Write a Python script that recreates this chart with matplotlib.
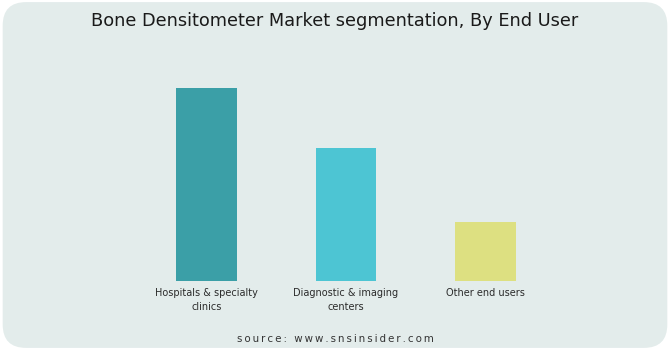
import matplotlib
matplotlib.use("Agg")
import matplotlib.pyplot as plt
from matplotlib.patches import FancyBboxPatch

# data (relative bar heights)
categories = ["Hospitals & specialty\nclinics", "Diagnostic & imaging\ncenters", "Other end users"]
values = [58, 40, 17.7]
colors = ["#3b9fa7", "#4dc5d3", "#dde081"]

title = "Bone Densitometer Market segmentation, By End User"
source = "source: www.snsinsider.com"

fig = plt.figure(figsize=(6.7, 3.5), dpi=100, facecolor="white")

# rounded light panel behind everything
panel = FancyBboxPatch((0.004, 0.006), 0.992, 0.988,
                       boxstyle="round,pad=0,rounding_size=0.035",
                       transform=fig.transFigure, facecolor="#e3eceb",
                       edgecolor="none", mutation_aspect=6.7 / 3.5, zorder=-10)
fig.patches.append(panel)

ax = fig.add_axes([0, 69 / 350, 1, 193 / 350])
ax.set_facecolor("none")
x = list(range(len(categories)))
ax.bar(x, values, width=0.437, color=colors)
ax.set_xlim(-206.5 / 139.5, (670 - 206.5) / 139.5)
ax.set_ylim(0, 58)
ax.set_xticks(x)
ax.set_xticklabels(categories, fontsize=7.0, color="#2b2b2b", linespacing=1.45)
ax.tick_params(axis="x", length=0, pad=5)
ax.set_yticks([])
for s in ax.spines.values():
    s.set_visible(False)

fig.text(0.5, 1 - 21 / 350, title, ha="center", va="center",
         fontsize=12.8, color="#1a1a1a")
# letter-spaced source line
fig.text(0.5, 1 - 339 / 350, "\u2009".join(source), ha="center", va="center",
         fontsize=7.4, color="#333333")

fig.savefig("out.png", dpi=100, facecolor="white")
